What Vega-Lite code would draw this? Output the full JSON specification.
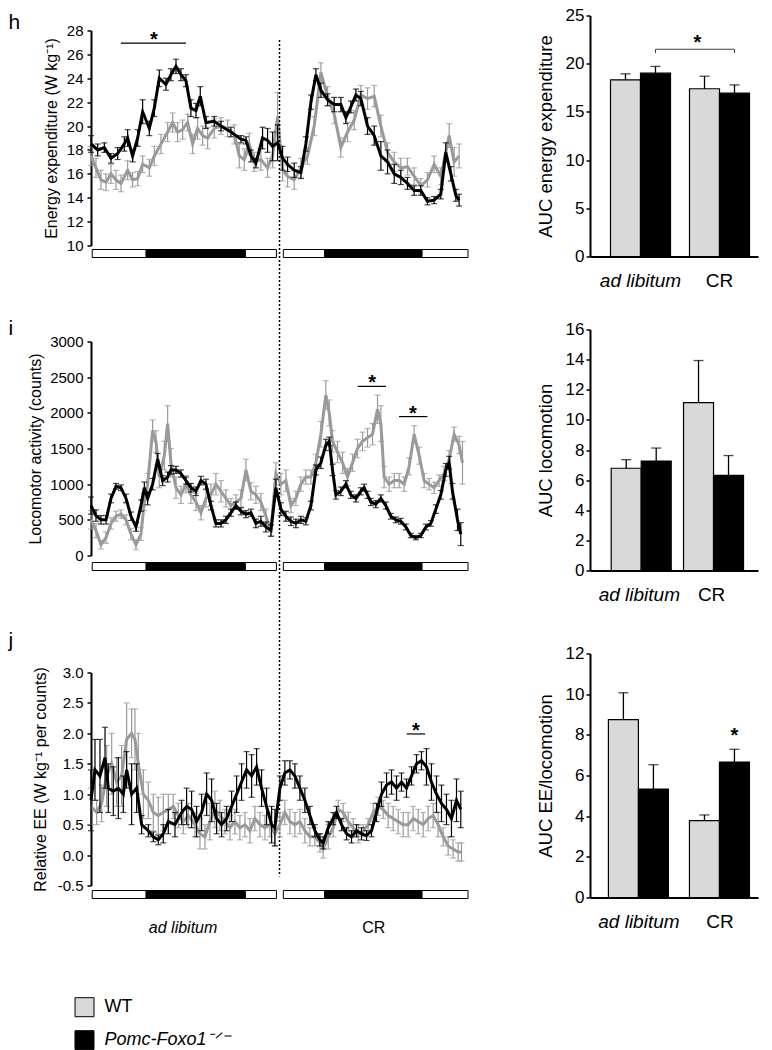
{
  "$schema": "https://vega.github.io/schema/vega-lite/v6.json",
  "background": "white",
  "padding": {"left": 8, "top": 6.5, "right": 5, "bottom": 5},
  "config": {
    "font": "Liberation Sans",
    "view": {"stroke": null},
    "axis": {"grid": false, "domainColor": "#000", "domainWidth": 2, "tickColor": "#000", "tickWidth": 1.5, "tickSize": 4, "labelColor": "#000", "titleColor": "#000", "titleFontWeight": "normal", "labelFont": "Liberation Sans", "titleFont": "Liberation Sans"},
    "title": {"font": "Liberation Sans", "fontWeight": "normal", "color": "#000"},
    "legend": {"orient": "none", "legendX": -16.5, "legendY": 981.7, "padding": 0, "symbolType": "square", "symbolSize": 361, "symbolStrokeColor": "#000", "symbolStrokeWidth": 1, "labelFontSize": 18, "labelFont": "Liberation Sans", "labelColor": "#000", "labelOffset": 10, "rowPadding": 9, "labelLimit": 300}
  },
  "datasets": {
    "h": [
      {"t":0,"g":"K","v":18.5,"e":0.7},{"t":0.87,"g":"K","v":18.0,"e":0.5},{"t":1.74,"g":"K","v":18.2,"e":0.4},{"t":2.61,"g":"K","v":17.3,"e":0.4},{"t":3.48,"g":"K","v":17.7,"e":0.5},{"t":4.35,"g":"K","v":18.5,"e":0.6},{"t":4.78,"g":"K","v":19.0,"e":0.7},{"t":5.43,"g":"K","v":17.5,"e":0.5},{"t":6.09,"g":"K","v":19.0,"e":0.7},{"t":6.74,"g":"K","v":21.2,"e":1.0},{"t":7.61,"g":"K","v":19.8,"e":0.6},{"t":8.26,"g":"K","v":21.5,"e":0.7},{"t":8.91,"g":"K","v":24.0,"e":0.7},{"t":9.78,"g":"K","v":23.5,"e":0.5},{"t":10.43,"g":"K","v":24.3,"e":0.5},{"t":11.09,"g":"K","v":25.0,"e":0.6},{"t":11.74,"g":"K","v":24.3,"e":0.5},{"t":12.39,"g":"K","v":23.8,"e":0.5},{"t":13.04,"g":"K","v":21.5,"e":0.7},{"t":13.7,"g":"K","v":21.3,"e":0.6},{"t":14.26,"g":"K","v":22.5,"e":0.8},{"t":15.0,"g":"K","v":20.3,"e":0.5},{"t":16.09,"g":"K","v":20.4,"e":0.4},{"t":16.96,"g":"K","v":20.0,"e":0.4},{"t":18.26,"g":"K","v":19.5,"e":0.4},{"t":19.57,"g":"K","v":18.9,"e":0.3},{"t":20.22,"g":"K","v":18.8,"e":0.3},{"t":20.87,"g":"K","v":17.5,"e":0.5},{"t":21.52,"g":"K","v":16.9,"e":0.4},{"t":22.39,"g":"K","v":19.0,"e":0.9},{"t":23.04,"g":"K","v":18.8,"e":1.0},{"t":23.7,"g":"K","v":18.3,"e":1.2},{"t":24.35,"g":"K","v":18.6,"e":1.5},{"t":25.0,"g":"K","v":17.3,"e":1.0},{"t":25.65,"g":"K","v":16.8,"e":0.6},{"t":26.52,"g":"K","v":16.3,"e":0.6},{"t":27.39,"g":"K","v":16.1,"e":0.5},{"t":28.04,"g":"K","v":18.5,"e":0.6},{"t":28.7,"g":"K","v":22.0,"e":0.6},{"t":29.35,"g":"K","v":24.3,"e":0.5},{"t":30.0,"g":"K","v":23.0,"e":0.6},{"t":30.87,"g":"K","v":22.2,"e":0.5},{"t":31.74,"g":"K","v":21.8,"e":0.6},{"t":32.61,"g":"K","v":21.8,"e":0.6},{"t":33.26,"g":"K","v":20.7,"e":0.5},{"t":33.91,"g":"K","v":21.6,"e":0.5},{"t":34.57,"g":"K","v":22.6,"e":0.5},{"t":35.22,"g":"K","v":22.3,"e":0.6},{"t":36.09,"g":"K","v":20.0,"e":0.7},{"t":36.96,"g":"K","v":19.2,"e":0.8},{"t":37.83,"g":"K","v":17.5,"e":1.2},{"t":38.7,"g":"K","v":17.0,"e":1.0},{"t":39.57,"g":"K","v":16.0,"e":0.8},{"t":40.43,"g":"K","v":15.7,"e":0.6},{"t":41.3,"g":"K","v":15.2,"e":0.5},{"t":42.17,"g":"K","v":14.6,"e":0.4},{"t":43.04,"g":"K","v":14.6,"e":0.4},{"t":43.91,"g":"K","v":13.7,"e":0.3},{"t":44.78,"g":"K","v":13.8,"e":0.3},{"t":45.65,"g":"K","v":14.3,"e":0.4},{"t":46.3,"g":"K","v":17.8,"e":0.8},{"t":46.96,"g":"K","v":16.0,"e":0.6},{"t":47.61,"g":"K","v":14.2,"e":0.5},{"t":48.04,"g":"K","v":13.8,"e":0.5},
      {"t":0,"g":"W","v":17.5,"e":0.8},{"t":0.65,"g":"W","v":16.5,"e":0.8},{"t":1.3,"g":"W","v":15.5,"e":0.8},{"t":1.96,"g":"W","v":15.3,"e":0.7},{"t":2.61,"g":"W","v":16.0,"e":0.8},{"t":3.26,"g":"W","v":15.5,"e":0.8},{"t":3.91,"g":"W","v":15.2,"e":0.7},{"t":4.78,"g":"W","v":16.3,"e":0.8},{"t":5.43,"g":"W","v":15.5,"e":0.6},{"t":6.09,"g":"W","v":15.6,"e":0.6},{"t":6.74,"g":"W","v":16.8,"e":0.7},{"t":7.61,"g":"W","v":16.5,"e":0.7},{"t":8.26,"g":"W","v":17.5,"e":0.8},{"t":9.13,"g":"W","v":18.5,"e":0.8},{"t":10.0,"g":"W","v":19.5,"e":0.8},{"t":10.65,"g":"W","v":20.3,"e":0.8},{"t":11.3,"g":"W","v":19.5,"e":0.8},{"t":11.96,"g":"W","v":19.7,"e":0.8},{"t":12.61,"g":"W","v":20.3,"e":0.7},{"t":13.26,"g":"W","v":18.5,"e":0.8},{"t":13.91,"g":"W","v":19.8,"e":0.9},{"t":14.57,"g":"W","v":19.2,"e":0.8},{"t":15.22,"g":"W","v":19.0,"e":0.9},{"t":16.09,"g":"W","v":19.8,"e":0.8},{"t":16.96,"g":"W","v":20.0,"e":0.7},{"t":17.83,"g":"W","v":19.8,"e":0.7},{"t":18.7,"g":"W","v":19.3,"e":0.8},{"t":19.35,"g":"W","v":17.5,"e":1.0},{"t":20.0,"g":"W","v":17.2,"e":0.9},{"t":20.65,"g":"W","v":18.5,"e":0.9},{"t":21.3,"g":"W","v":17.0,"e":0.8},{"t":22.17,"g":"W","v":17.2,"e":0.9},{"t":23.04,"g":"W","v":16.5,"e":0.8},{"t":23.7,"g":"W","v":17.5,"e":1.0},{"t":24.35,"g":"W","v":20.8,"e":2.0},{"t":25.0,"g":"W","v":16.3,"e":0.9},{"t":25.65,"g":"W","v":15.8,"e":0.9},{"t":26.52,"g":"W","v":15.5,"e":0.8},{"t":27.39,"g":"W","v":16.5,"e":0.8},{"t":28.26,"g":"W","v":17.5,"e":0.7},{"t":29.13,"g":"W","v":20.0,"e":0.8},{"t":30.0,"g":"W","v":24.5,"e":0.8},{"t":30.87,"g":"W","v":22.5,"e":0.8},{"t":31.74,"g":"W","v":21.0,"e":0.8},{"t":32.61,"g":"W","v":18.2,"e":0.8},{"t":33.48,"g":"W","v":19.5,"e":0.8},{"t":34.35,"g":"W","v":20.5,"e":0.8},{"t":35.22,"g":"W","v":22.6,"e":0.8},{"t":36.09,"g":"W","v":22.3,"e":0.9},{"t":36.96,"g":"W","v":22.5,"e":0.9},{"t":37.83,"g":"W","v":20.0,"e":0.9},{"t":38.7,"g":"W","v":17.8,"e":0.8},{"t":39.57,"g":"W","v":17.0,"e":0.8},{"t":40.43,"g":"W","v":16.5,"e":0.8},{"t":41.3,"g":"W","v":16.6,"e":0.7},{"t":42.17,"g":"W","v":15.8,"e":0.7},{"t":43.04,"g":"W","v":15.0,"e":0.6},{"t":43.91,"g":"W","v":15.5,"e":0.6},{"t":44.78,"g":"W","v":16.8,"e":0.7},{"t":45.65,"g":"W","v":15.8,"e":0.7},{"t":46.74,"g":"W","v":19.2,"e":1.0},{"t":47.39,"g":"W","v":17.0,"e":1.2},{"t":48.04,"g":"W","v":17.5,"e":1.0}
    ],
    "i": [
      {"t":0,"g":"K","v":700,"e":120},{"t":0.65,"g":"K","v":560,"e":80},{"t":1.3,"g":"K","v":500,"e":60},{"t":1.96,"g":"K","v":500,"e":60},{"t":2.61,"g":"K","v":800,"e":60},{"t":3.26,"g":"K","v":970,"e":40},{"t":3.91,"g":"K","v":950,"e":40},{"t":4.57,"g":"K","v":800,"e":60},{"t":5.22,"g":"K","v":550,"e":60},{"t":5.87,"g":"K","v":400,"e":60},{"t":6.52,"g":"K","v":700,"e":80},{"t":6.96,"g":"K","v":950,"e":80},{"t":7.39,"g":"K","v":800,"e":90},{"t":8.04,"g":"K","v":1000,"e":80},{"t":8.7,"g":"K","v":1350,"e":80},{"t":9.35,"g":"K","v":1050,"e":70},{"t":10.0,"g":"K","v":1100,"e":70},{"t":10.43,"g":"K","v":1200,"e":60},{"t":11.09,"g":"K","v":1200,"e":50},{"t":11.74,"g":"K","v":1150,"e":50},{"t":12.39,"g":"K","v":1050,"e":50},{"t":13.04,"g":"K","v":950,"e":60},{"t":13.7,"g":"K","v":900,"e":60},{"t":14.35,"g":"K","v":1050,"e":60},{"t":15.0,"g":"K","v":1000,"e":70},{"t":15.65,"g":"K","v":700,"e":60},{"t":16.3,"g":"K","v":450,"e":50},{"t":16.96,"g":"K","v":450,"e":50},{"t":17.61,"g":"K","v":500,"e":50},{"t":18.26,"g":"K","v":600,"e":50},{"t":18.91,"g":"K","v":700,"e":50},{"t":19.57,"g":"K","v":620,"e":50},{"t":20.22,"g":"K","v":580,"e":50},{"t":20.87,"g":"K","v":600,"e":50},{"t":21.52,"g":"K","v":450,"e":60},{"t":22.17,"g":"K","v":480,"e":70},{"t":22.83,"g":"K","v":400,"e":70},{"t":23.48,"g":"K","v":350,"e":80},{"t":24.13,"g":"K","v":950,"e":120},{"t":24.78,"g":"K","v":650,"e":90},{"t":25.43,"g":"K","v":550,"e":70},{"t":26.09,"g":"K","v":480,"e":60},{"t":26.74,"g":"K","v":450,"e":60},{"t":27.39,"g":"K","v":500,"e":50},{"t":28.04,"g":"K","v":480,"e":50},{"t":28.7,"g":"K","v":700,"e":60},{"t":29.35,"g":"K","v":1200,"e":70},{"t":30.0,"g":"K","v":1300,"e":80},{"t":30.65,"g":"K","v":1550,"e":80},{"t":31.09,"g":"K","v":1600,"e":60},{"t":31.52,"g":"K","v":1200,"e":80},{"t":31.96,"g":"K","v":850,"e":60},{"t":32.61,"g":"K","v":900,"e":60},{"t":33.26,"g":"K","v":1000,"e":50},{"t":33.91,"g":"K","v":850,"e":50},{"t":34.57,"g":"K","v":800,"e":50},{"t":35.22,"g":"K","v":900,"e":50},{"t":35.65,"g":"K","v":950,"e":50},{"t":36.09,"g":"K","v":850,"e":50},{"t":36.52,"g":"K","v":750,"e":50},{"t":37.17,"g":"K","v":720,"e":50},{"t":37.83,"g":"K","v":800,"e":50},{"t":38.48,"g":"K","v":700,"e":50},{"t":39.13,"g":"K","v":550,"e":40},{"t":39.78,"g":"K","v":500,"e":40},{"t":40.43,"g":"K","v":480,"e":40},{"t":41.09,"g":"K","v":400,"e":40},{"t":41.74,"g":"K","v":280,"e":30},{"t":42.39,"g":"K","v":250,"e":30},{"t":43.04,"g":"K","v":280,"e":30},{"t":43.7,"g":"K","v":400,"e":40},{"t":44.35,"g":"K","v":450,"e":40},{"t":45.0,"g":"K","v":650,"e":60},{"t":45.65,"g":"K","v":850,"e":60},{"t":46.3,"g":"K","v":1200,"e":90},{"t":46.74,"g":"K","v":1300,"e":90},{"t":47.17,"g":"K","v":900,"e":110},{"t":47.83,"g":"K","v":500,"e":150},{"t":48.26,"g":"K","v":300,"e":160},
      {"t":0,"g":"W","v":500,"e":130},{"t":0.65,"g":"W","v":350,"e":100},{"t":1.3,"g":"W","v":150,"e":60},{"t":1.96,"g":"W","v":250,"e":80},{"t":2.61,"g":"W","v":450,"e":80},{"t":3.26,"g":"W","v":550,"e":70},{"t":3.91,"g":"W","v":580,"e":60},{"t":4.57,"g":"W","v":500,"e":70},{"t":5.22,"g":"W","v":300,"e":80},{"t":5.87,"g":"W","v":150,"e":70},{"t":6.52,"g":"W","v":300,"e":90},{"t":6.96,"g":"W","v":750,"e":120},{"t":7.39,"g":"W","v":1000,"e":150},{"t":8.04,"g":"W","v":1750,"e":150},{"t":8.48,"g":"W","v":1600,"e":150},{"t":8.91,"g":"W","v":1100,"e":150},{"t":9.57,"g":"W","v":1400,"e":200},{"t":10.0,"g":"W","v":1850,"e":250},{"t":10.43,"g":"W","v":1300,"e":200},{"t":11.09,"g":"W","v":950,"e":150},{"t":11.74,"g":"W","v":850,"e":120},{"t":12.39,"g":"W","v":1000,"e":120},{"t":13.04,"g":"W","v":850,"e":120},{"t":13.7,"g":"W","v":750,"e":120},{"t":14.35,"g":"W","v":600,"e":100},{"t":15.0,"g":"W","v":800,"e":120},{"t":15.65,"g":"W","v":850,"e":150},{"t":16.3,"g":"W","v":1000,"e":150},{"t":16.96,"g":"W","v":900,"e":150},{"t":17.61,"g":"W","v":800,"e":120},{"t":18.26,"g":"W","v":700,"e":100},{"t":18.91,"g":"W","v":750,"e":100},{"t":19.57,"g":"W","v":800,"e":120},{"t":20.22,"g":"W","v":1200,"e":150},{"t":20.87,"g":"W","v":900,"e":120},{"t":21.52,"g":"W","v":850,"e":120},{"t":22.17,"g":"W","v":750,"e":120},{"t":22.83,"g":"W","v":550,"e":100},{"t":23.48,"g":"W","v":350,"e":80},{"t":24.13,"g":"W","v":1150,"e":150},{"t":24.78,"g":"W","v":1000,"e":150},{"t":25.43,"g":"W","v":1050,"e":150},{"t":26.09,"g":"W","v":700,"e":100},{"t":26.74,"g":"W","v":800,"e":100},{"t":27.39,"g":"W","v":1000,"e":100},{"t":28.04,"g":"W","v":1100,"e":100},{"t":28.7,"g":"W","v":1100,"e":100},{"t":29.35,"g":"W","v":1300,"e":120},{"t":30.0,"g":"W","v":1700,"e":180},{"t":30.65,"g":"W","v":2250,"e":200},{"t":31.09,"g":"W","v":2000,"e":180},{"t":31.52,"g":"W","v":1600,"e":150},{"t":32.17,"g":"W","v":1450,"e":150},{"t":32.83,"g":"W","v":1300,"e":150},{"t":33.48,"g":"W","v":1100,"e":120},{"t":34.13,"g":"W","v":1300,"e":120},{"t":34.78,"g":"W","v":1500,"e":130},{"t":35.43,"g":"W","v":1600,"e":130},{"t":36.09,"g":"W","v":1650,"e":130},{"t":36.74,"g":"W","v":1700,"e":150},{"t":37.39,"g":"W","v":2050,"e":200},{"t":37.83,"g":"W","v":1850,"e":250},{"t":38.26,"g":"W","v":1100,"e":150},{"t":38.91,"g":"W","v":1000,"e":100},{"t":39.57,"g":"W","v":1050,"e":100},{"t":40.22,"g":"W","v":1050,"e":100},{"t":40.87,"g":"W","v":1000,"e":100},{"t":41.52,"g":"W","v":1250,"e":120},{"t":42.17,"g":"W","v":1700,"e":120},{"t":42.83,"g":"W","v":1400,"e":120},{"t":43.48,"g":"W","v":1050,"e":100},{"t":44.13,"g":"W","v":1000,"e":80},{"t":44.78,"g":"W","v":950,"e":80},{"t":45.43,"g":"W","v":1050,"e":80},{"t":46.09,"g":"W","v":1150,"e":100},{"t":46.74,"g":"W","v":1350,"e":120},{"t":47.39,"g":"W","v":1700,"e":100},{"t":48.04,"g":"W","v":1550,"e":120},{"t":48.48,"g":"W","v":1300,"e":300}
    ],
    "j": [
      {"t":0,"g":"K","v":0.9,"e":0.5},{"t":0.52,"g":"K","v":1.4,"e":0.5},{"t":1.17,"g":"K","v":1.3,"e":0.6},{"t":1.83,"g":"K","v":1.6,"e":0.5},{"t":2.26,"g":"K","v":1.1,"e":0.4},{"t":2.91,"g":"K","v":1.05,"e":0.4},{"t":3.57,"g":"K","v":1.1,"e":0.5},{"t":4.22,"g":"K","v":1.0,"e":0.3},{"t":4.65,"g":"K","v":1.4,"e":0.3},{"t":5.3,"g":"K","v":1.0,"e":0.5},{"t":5.96,"g":"K","v":1.1,"e":0.4},{"t":6.61,"g":"K","v":0.5,"e":0.15},{"t":7.48,"g":"K","v":0.4,"e":0.1},{"t":8.13,"g":"K","v":0.3,"e":0.08},{"t":8.78,"g":"K","v":0.25,"e":0.08},{"t":9.43,"g":"K","v":0.35,"e":0.15},{"t":10.09,"g":"K","v":0.55,"e":0.2},{"t":10.96,"g":"K","v":0.5,"e":0.2},{"t":11.83,"g":"K","v":0.7,"e":0.2},{"t":12.48,"g":"K","v":0.8,"e":0.3},{"t":13.13,"g":"K","v":0.75,"e":0.3},{"t":13.78,"g":"K","v":0.55,"e":0.25},{"t":14.43,"g":"K","v":0.7,"e":0.3},{"t":15.09,"g":"K","v":1.0,"e":0.35},{"t":15.74,"g":"K","v":0.9,"e":0.35},{"t":16.39,"g":"K","v":0.6,"e":0.25},{"t":17.04,"g":"K","v":0.5,"e":0.2},{"t":17.7,"g":"K","v":0.6,"e":0.2},{"t":18.35,"g":"K","v":0.8,"e":0.25},{"t":19.0,"g":"K","v":1.0,"e":0.3},{"t":19.65,"g":"K","v":1.2,"e":0.3},{"t":20.3,"g":"K","v":1.4,"e":0.3},{"t":20.96,"g":"K","v":1.3,"e":0.35},{"t":21.61,"g":"K","v":1.45,"e":0.3},{"t":22.26,"g":"K","v":1.1,"e":0.3},{"t":22.91,"g":"K","v":0.8,"e":0.3},{"t":23.57,"g":"K","v":0.5,"e":0.3},{"t":24.0,"g":"K","v":0.45,"e":0.3},{"t":24.65,"g":"K","v":1.1,"e":0.2},{"t":25.3,"g":"K","v":1.35,"e":0.2},{"t":25.96,"g":"K","v":1.4,"e":0.15},{"t":26.61,"g":"K","v":1.3,"e":0.2},{"t":27.26,"g":"K","v":1.1,"e":0.2},{"t":27.91,"g":"K","v":0.9,"e":0.2},{"t":28.57,"g":"K","v":0.65,"e":0.15},{"t":29.22,"g":"K","v":0.4,"e":0.1},{"t":29.87,"g":"K","v":0.25,"e":0.1},{"t":30.3,"g":"K","v":0.2,"e":0.1},{"t":30.96,"g":"K","v":0.45,"e":0.1},{"t":31.61,"g":"K","v":0.6,"e":0.1},{"t":32.04,"g":"K","v":0.7,"e":0.1},{"t":32.7,"g":"K","v":0.5,"e":0.1},{"t":33.35,"g":"K","v":0.35,"e":0.1},{"t":34.0,"g":"K","v":0.3,"e":0.1},{"t":34.65,"g":"K","v":0.4,"e":0.1},{"t":35.3,"g":"K","v":0.35,"e":0.1},{"t":35.96,"g":"K","v":0.32,"e":0.08},{"t":36.61,"g":"K","v":0.4,"e":0.1},{"t":37.26,"g":"K","v":0.7,"e":0.15},{"t":37.91,"g":"K","v":1.0,"e":0.2},{"t":38.57,"g":"K","v":1.15,"e":0.2},{"t":39.22,"g":"K","v":1.2,"e":0.2},{"t":39.87,"g":"K","v":1.1,"e":0.2},{"t":40.52,"g":"K","v":1.2,"e":0.15},{"t":41.17,"g":"K","v":1.1,"e":0.15},{"t":41.83,"g":"K","v":1.3,"e":0.15},{"t":42.48,"g":"K","v":1.5,"e":0.15},{"t":43.13,"g":"K","v":1.55,"e":0.15},{"t":43.78,"g":"K","v":1.45,"e":0.3},{"t":44.43,"g":"K","v":1.2,"e":0.3},{"t":45.09,"g":"K","v":1.0,"e":0.3},{"t":45.74,"g":"K","v":0.85,"e":0.3},{"t":46.39,"g":"K","v":0.75,"e":0.25},{"t":47.04,"g":"K","v":0.6,"e":0.3},{"t":47.7,"g":"K","v":0.9,"e":0.35},{"t":48.26,"g":"K","v":0.75,"e":0.3},
      {"t":0,"g":"W","v":0.8,"e":0.3},{"t":0.74,"g":"W","v":0.7,"e":0.2},{"t":1.39,"g":"W","v":0.85,"e":0.3},{"t":2.04,"g":"W","v":1.3,"e":0.5},{"t":2.7,"g":"W","v":1.5,"e":0.5},{"t":3.35,"g":"W","v":1.2,"e":0.4},{"t":4.0,"g":"W","v":1.3,"e":0.5},{"t":4.65,"g":"W","v":1.9,"e":0.6},{"t":5.3,"g":"W","v":2.0,"e":0.4},{"t":5.74,"g":"W","v":1.9,"e":0.5},{"t":6.17,"g":"W","v":1.5,"e":0.5},{"t":6.83,"g":"W","v":1.0,"e":0.4},{"t":7.48,"g":"W","v":0.9,"e":0.3},{"t":8.13,"g":"W","v":0.7,"e":0.3},{"t":8.78,"g":"W","v":0.65,"e":0.3},{"t":9.43,"g":"W","v":0.7,"e":0.3},{"t":10.09,"g":"W","v":0.75,"e":0.25},{"t":10.74,"g":"W","v":0.8,"e":0.2},{"t":11.39,"g":"W","v":0.65,"e":0.2},{"t":12.04,"g":"W","v":0.55,"e":0.2},{"t":12.7,"g":"W","v":0.65,"e":0.2},{"t":13.57,"g":"W","v":0.5,"e":0.2},{"t":14.22,"g":"W","v":0.35,"e":0.25},{"t":14.87,"g":"W","v":0.3,"e":0.2},{"t":15.52,"g":"W","v":0.55,"e":0.3},{"t":16.17,"g":"W","v":0.75,"e":0.3},{"t":16.83,"g":"W","v":0.65,"e":0.25},{"t":17.48,"g":"W","v":0.55,"e":0.2},{"t":18.13,"g":"W","v":0.45,"e":0.2},{"t":18.78,"g":"W","v":0.55,"e":0.2},{"t":19.43,"g":"W","v":0.45,"e":0.2},{"t":20.09,"g":"W","v":0.5,"e":0.2},{"t":20.74,"g":"W","v":0.4,"e":0.2},{"t":21.39,"g":"W","v":0.6,"e":0.2},{"t":22.04,"g":"W","v":0.5,"e":0.2},{"t":22.7,"g":"W","v":0.45,"e":0.2},{"t":23.35,"g":"W","v":0.5,"e":0.2},{"t":24.0,"g":"W","v":0.35,"e":0.2},{"t":24.65,"g":"W","v":0.5,"e":0.2},{"t":25.3,"g":"W","v":0.7,"e":0.2},{"t":25.96,"g":"W","v":0.55,"e":0.2},{"t":26.61,"g":"W","v":0.5,"e":0.2},{"t":27.26,"g":"W","v":0.55,"e":0.2},{"t":27.91,"g":"W","v":0.4,"e":0.2},{"t":28.57,"g":"W","v":0.3,"e":0.15},{"t":29.22,"g":"W","v":0.3,"e":0.15},{"t":29.87,"g":"W","v":0.2,"e":0.15},{"t":30.3,"g":"W","v":0.1,"e":0.15},{"t":30.96,"g":"W","v":0.3,"e":0.2},{"t":31.61,"g":"W","v":0.45,"e":0.15},{"t":32.26,"g":"W","v":0.75,"e":0.15},{"t":32.91,"g":"W","v":0.7,"e":0.15},{"t":33.57,"g":"W","v":0.55,"e":0.15},{"t":34.22,"g":"W","v":0.45,"e":0.15},{"t":34.87,"g":"W","v":0.35,"e":0.15},{"t":35.52,"g":"W","v":0.4,"e":0.1},{"t":36.17,"g":"W","v":0.5,"e":0.1},{"t":36.83,"g":"W","v":0.7,"e":0.15},{"t":37.48,"g":"W","v":0.8,"e":0.15},{"t":38.13,"g":"W","v":0.75,"e":0.15},{"t":38.78,"g":"W","v":0.65,"e":0.2},{"t":39.43,"g":"W","v":0.6,"e":0.2},{"t":40.09,"g":"W","v":0.55,"e":0.2},{"t":40.74,"g":"W","v":0.5,"e":0.2},{"t":41.39,"g":"W","v":0.5,"e":0.2},{"t":42.04,"g":"W","v":0.6,"e":0.2},{"t":42.7,"g":"W","v":0.55,"e":0.2},{"t":43.35,"g":"W","v":0.5,"e":0.2},{"t":44.0,"g":"W","v":0.6,"e":0.2},{"t":44.65,"g":"W","v":0.65,"e":0.2},{"t":45.3,"g":"W","v":0.5,"e":0.2},{"t":45.96,"g":"W","v":0.3,"e":0.15},{"t":46.61,"g":"W","v":0.15,"e":0.15},{"t":47.26,"g":"W","v":0.1,"e":0.15},{"t":47.91,"g":"W","v":0.05,"e":0.15},{"t":48.35,"g":"W","v":0.05,"e":0.15}
    ],
    "strip": [
      {"s":0.16,"e":7.2,"p":"light"},{"s":7.2,"e":20.15,"p":"dark"},{"s":20.15,"e":24.2,"p":"light"},
      {"s":25.1,"e":30.5,"p":"light"},{"s":30.5,"e":43.2,"p":"dark"},{"s":43.2,"e":49.2,"p":"light"}
    ],
    "divider": [{"t": 24.6, "top": 27.2, "bottom": -42.83}],
    "sig_h": [{"t1":3.9,"t2":12.4,"tm":8.2,"v":26.94}],
    "sig_i": [{"t1":34.8,"t2":38.5,"tm":36.7,"v":2371},{"t1":40.2,"t2":43.9,"tm":42.0,"v":1947}],
    "sig_j": [{"t1":41.2,"t2":43.6,"tm":42.4,"v":1.99}],
    "bars_h": [
      {"diet":"ad libitum","g":"WT","v":18.33,"e":0.62},{"diet":"ad libitum","g":"KO","v":19.02,"e":0.7},
      {"diet":"CR","g":"WT","v":17.4,"e":1.3},{"diet":"CR","g":"KO","v":16.94,"e":0.86}
    ],
    "bars_i": [
      {"diet":"ad libitum","g":"WT","v":6.79,"e":0.57},{"diet":"ad libitum","g":"KO","v":7.27,"e":0.86},
      {"diet":"CR","g":"WT","v":11.14,"e":2.8},{"diet":"CR","g":"KO","v":6.31,"e":1.32}
    ],
    "bars_j": [
      {"diet":"ad libitum","g":"WT","v":8.75,"e":1.32},{"diet":"ad libitum","g":"KO","v":5.33,"e":1.2},
      {"diet":"CR","g":"WT","v":3.78,"e":0.28},{"diet":"CR","g":"KO","v":6.66,"e":0.63}
    ],
    "bracket_h": [
      {"diet":"ad libitum","g":"KO","v":21.1,"o":1},{"diet":"ad libitum","g":"KO","v":21.5,"o":2},
      {"diet":"CR","g":"KO","v":21.5,"o":3},{"diet":"CR","g":"KO","v":21.1,"o":4}
    ],
    "star_h": [{"diet":"CR","g":"WT","v":21.6}],
    "star_j": [{"diet":"CR","g":"KO","v":7.7}]
  },
  "hconcat": [
    {
      "vconcat": [
        {"width": 377, "height": 15, "data": {"values": []}, "mark": "point"},
        {
          "width": 377, "height": 215,
          "title": {"text": "h", "anchor": "start", "frame": "group", "dx": -82.5, "offset": -26.2, "fontSize": 21, "baseline": "alphabetic"},
          "data": {"name": "h"},
          "encoding": {
            "x": {"field": "t", "type": "quantitative", "scale": {"domain": [0, 49.2], "nice": false, "zero": false}, "axis": null},
            "y": {"field": "v", "type": "quantitative", "scale": {"domain": [10, 28], "nice": false, "zero": false}, "axis": {"title": "Energy expenditure (W kg⁻¹)", "values": [10,12,14,16,18,20,22,24,26,28], "labelFontSize": 15, "titleFontSize": 16, "labelPadding": 4, "titlePadding": 7}}
          },
          "layer": [
            {"transform": [{"filter": "datum.g == 'W'"}], "mark": {"type": "errorbar", "ticks": true, "size": 6, "thickness": 1.2, "color": "#9a9a9a"}, "encoding": {"yError": {"field": "e"}}},
            {"transform": [{"filter": "datum.g == 'W'"}], "mark": {"type": "line", "color": "#9a9a9a", "strokeWidth": 3}},
            {"transform": [{"filter": "datum.g == 'K'"}], "mark": {"type": "errorbar", "ticks": true, "size": 6, "thickness": 1.2, "color": "#000"}, "encoding": {"yError": {"field": "e"}}},
            {"transform": [{"filter": "datum.g == 'K'"}], "mark": {"type": "line", "color": "#000", "strokeWidth": 3}},
            {"data": {"name": "sig_h"}, "mark": {"type": "rule", "color": "#000", "strokeWidth": 1.2}, "encoding": {"x": {"field": "t1", "type": "quantitative"}, "x2": {"field": "t2"}}},
            {"data": {"name": "sig_h"}, "mark": {"type": "text", "text": "*", "fontSize": 20, "fontWeight": "bold", "baseline": "alphabetic", "dy": 3, "color": "#000"}, "encoding": {"x": {"field": "tm", "type": "quantitative"}}},
            {"data": {"name": "divider"}, "mark": {"type": "rule", "color": "#000", "strokeWidth": 1.5, "strokeDash": [2, 2], "clip": false}, "encoding": {"x": {"field": "t", "type": "quantitative"}, "y": {"field": "top", "type": "quantitative"}, "y2": {"field": "bottom"}}}
          ]
        },
        {"width": 377, "height": 4, "data": {"values": []}, "mark": "point"},
        {
          "width": 377, "height": 8, "data": {"name": "strip"},
          "mark": {"type": "rect", "stroke": "#000", "strokeWidth": 1},
          "encoding": {
            "x": {"field": "s", "type": "quantitative", "scale": {"domain": [0, 49.2], "nice": false, "zero": false}, "axis": null},
            "x2": {"field": "e"},
            "fill": {"condition": {"test": "datum.p == 'dark'", "value": "#000"}, "value": "#fff"}
          }
        },
        {"width": 377, "height": 84, "data": {"values": []}, "mark": "point"},
        {
          "width": 377, "height": 214,
          "title": {"text": "i", "anchor": "start", "frame": "group", "dx": -82.5, "offset": -21.8, "fontSize": 21, "baseline": "alphabetic"},
          "data": {"name": "i"},
          "encoding": {
            "x": {"field": "t", "type": "quantitative", "scale": {"domain": [0, 49.2], "nice": false, "zero": false}, "axis": null},
            "y": {"field": "v", "type": "quantitative", "scale": {"domain": [0, 3000], "nice": false}, "axis": {"title": "Locomotor activity (counts)", "values": [0,500,1000,1500,2000,2500,3000], "format": "d", "labelFontSize": 15, "titleFontSize": 16, "labelPadding": 4, "titlePadding": 6}}
          },
          "layer": [
            {"transform": [{"filter": "datum.g == 'W'"}], "mark": {"type": "errorbar", "ticks": true, "size": 6, "thickness": 1.2, "color": "#9a9a9a"}, "encoding": {"yError": {"field": "e"}}},
            {"transform": [{"filter": "datum.g == 'W'"}], "mark": {"type": "line", "color": "#9a9a9a", "strokeWidth": 3}},
            {"transform": [{"filter": "datum.g == 'K'"}], "mark": {"type": "errorbar", "ticks": true, "size": 6, "thickness": 1.2, "color": "#000"}, "encoding": {"yError": {"field": "e"}}},
            {"transform": [{"filter": "datum.g == 'K'"}], "mark": {"type": "line", "color": "#000", "strokeWidth": 3}},
            {"data": {"name": "sig_i"}, "mark": {"type": "rule", "color": "#000", "strokeWidth": 1.2}, "encoding": {"x": {"field": "t1", "type": "quantitative"}, "x2": {"field": "t2"}}},
            {"data": {"name": "sig_i"}, "mark": {"type": "text", "text": "*", "fontSize": 20, "fontWeight": "bold", "baseline": "alphabetic", "dy": 3, "color": "#000"}, "encoding": {"x": {"field": "tm", "type": "quantitative"}}}
          ]
        },
        {"width": 377, "height": 7, "data": {"values": []}, "mark": "point"},
        {
          "width": 377, "height": 8, "data": {"name": "strip"},
          "mark": {"type": "rect", "stroke": "#000", "strokeWidth": 1},
          "encoding": {
            "x": {"field": "s", "type": "quantitative", "scale": {"domain": [0, 49.2], "nice": false, "zero": false}, "axis": null},
            "x2": {"field": "e"},
            "fill": {"condition": {"test": "datum.p == 'dark'", "value": "#000"}, "value": "#fff"}
          }
        },
        {"width": 377, "height": 102, "data": {"values": []}, "mark": "point"},
        {
          "width": 377, "height": 213,
          "title": {"text": "j", "anchor": "start", "frame": "group", "dx": -82.5, "offset": -2.8, "fontSize": 21, "baseline": "alphabetic"},
          "data": {"name": "j"},
          "encoding": {
            "x": {"field": "t", "type": "quantitative", "scale": {"domain": [0, 49.2], "nice": false, "zero": false}, "axis": null},
            "y": {"field": "v", "type": "quantitative", "scale": {"domain": [-0.5, 3.0], "nice": false, "zero": false}, "axis": {"title": "Relative EE (W kg⁻¹ per counts)", "values": [-0.5,0,0.5,1,1.5,2,2.5,3], "labelExpr": "datum.value < 0 ? '-' + format(-datum.value, '.1f') : format(datum.value, '.1f')", "labelFontSize": 15, "titleFontSize": 16, "labelPadding": 4, "titlePadding": 9}}
          },
          "layer": [
            {"transform": [{"filter": "datum.g == 'W'"}], "mark": {"type": "errorbar", "ticks": true, "size": 6, "thickness": 1.2, "color": "#9a9a9a"}, "encoding": {"yError": {"field": "e"}}},
            {"transform": [{"filter": "datum.g == 'W'"}], "mark": {"type": "line", "color": "#9a9a9a", "strokeWidth": 3}},
            {"transform": [{"filter": "datum.g == 'K'"}], "mark": {"type": "errorbar", "ticks": true, "size": 6, "thickness": 1.2, "color": "#000"}, "encoding": {"yError": {"field": "e"}}},
            {"transform": [{"filter": "datum.g == 'K'"}], "mark": {"type": "line", "color": "#000", "strokeWidth": 3}},
            {"data": {"name": "sig_j"}, "mark": {"type": "rule", "color": "#000", "strokeWidth": 1.2}, "encoding": {"x": {"field": "t1", "type": "quantitative"}, "x2": {"field": "t2"}}},
            {"data": {"name": "sig_j"}, "mark": {"type": "text", "text": "*", "fontSize": 20, "fontWeight": "bold", "baseline": "alphabetic", "dy": 3, "color": "#000"}, "encoding": {"x": {"field": "tm", "type": "quantitative"}}}
          ]
        },
        {"width": 377, "height": 5, "data": {"values": []}, "mark": "point"},
        {
          "width": 377, "height": 8, "data": {"name": "strip"},
          "mark": {"type": "rect", "stroke": "#000", "strokeWidth": 1},
          "encoding": {
            "x": {"field": "s", "type": "quantitative", "scale": {"domain": [0, 49.2], "nice": false, "zero": false}, "axis": {"title": null, "domain": false, "ticks": false, "values": [11.95, 36.85], "labelExpr": "datum.value < 24 ? 'ad libitum' : 'CR'", "labelFontSize": 16, "labelPadding": 21, "labelFlush": false, "labelOverlap": false, "labelFontStyle": {"condition": {"test": "datum.value < 24", "value": "italic"}, "value": "normal"}}},
            "x2": {"field": "e"},
            "fill": {"condition": {"test": "datum.p == 'dark'", "value": "#000"}, "value": "#fff"}
          }
        }
      ],
      "spacing": 0,
      "bounds": "flush"
    },
    {
      "vconcat": [
        {
          "width": 168, "height": 241,
          "data": {"name": "bars_h"},
          "encoding": {
            "x": {"field": "diet", "type": "nominal", "sort": ["ad libitum", "CR"], "scale": {"paddingInner": 0.2405, "paddingOuter": 0.1835, "align": 0.707}, "axis": {"title": null, "ticks": false, "labelAngle": 0, "labelFontSize": 19, "labelPadding": 15, "labelFontStyle": {"condition": {"test": "datum.value == 'ad libitum'", "value": "italic"}, "value": "normal"}}},
            "xOffset": {"field": "g", "type": "nominal", "sort": ["WT", "KO"], "scale": {"paddingInner": 0, "paddingOuter": 0}},
            "y": {"field": "v", "type": "quantitative", "scale": {"domain": [0, 25], "nice": false}, "axis": {"title": "AUC energy expenditure", "values": [0,5,10,15,20,25], "labelFontSize": 17, "titleFontSize": 18.5, "labelPadding": 2, "titlePadding": 10}}
          },
          "layer": [
            {"mark": {"type": "errorbar", "ticks": true, "size": 10, "thickness": 1.3, "color": "#000"}, "encoding": {"yError": {"field": "e"}}},
            {"mark": {"type": "bar", "stroke": "#000", "strokeWidth": 1.2}, "encoding": {"fill": {"field": "g", "type": "nominal", "scale": {"domain": ["WT", "KO"], "range": ["#d9d9d9", "#000000"]}, "legend": {"title": null, "labelExpr": "datum.value == 'KO' ? 'Pomc-Foxo1⁻ᐟ⁻' : 'WT'", "encode": {"labels": {"update": {"fontStyle": {"signal": "datum.value == 'KO' ? 'italic' : 'normal'"}}}}}}}},
            {"data": {"name": "bracket_h"}, "mark": {"type": "line", "color": "#444", "strokeWidth": 1}, "encoding": {"order": {"field": "o", "type": "quantitative"}}},
            {"data": {"name": "star_h"}, "mark": {"type": "text", "text": "*", "fontSize": 20, "fontWeight": "bold", "baseline": "alphabetic", "dx": -7, "dy": 1, "color": "#000"}}
          ]
        },
        {"width": 168, "height": 73, "data": {"values": []}, "mark": "point"},
        {
          "width": 168, "height": 241,
          "data": {"name": "bars_i"},
          "encoding": {
            "x": {"field": "diet", "type": "nominal", "sort": ["ad libitum", "CR"], "scale": {"paddingInner": 0.223, "paddingOuter": 0.273, "align": 0.537}, "axis": {"title": null, "ticks": false, "labelAngle": 0, "labelFontSize": 19, "labelPadding": 15, "labelFontStyle": {"condition": {"test": "datum.value == 'ad libitum'", "value": "italic"}, "value": "normal"}}},
            "xOffset": {"field": "g", "type": "nominal", "sort": ["WT", "KO"], "scale": {"paddingInner": 0, "paddingOuter": 0}},
            "y": {"field": "v", "type": "quantitative", "scale": {"domain": [0, 16], "nice": false}, "axis": {"title": "AUC locomotion", "values": [0,2,4,6,8,10,12,14,16], "labelFontSize": 17, "titleFontSize": 18.5, "labelPadding": 2, "titlePadding": 10}}
          },
          "layer": [
            {"mark": {"type": "errorbar", "ticks": true, "size": 10, "thickness": 1.3, "color": "#000"}, "encoding": {"yError": {"field": "e"}}},
            {"mark": {"type": "bar", "stroke": "#000", "strokeWidth": 1.2}, "encoding": {"fill": {"field": "g", "type": "nominal", "scale": {"domain": ["WT", "KO"], "range": ["#d9d9d9", "#000000"]}, "legend": {"title": null, "labelExpr": "datum.value == 'KO' ? 'Pomc-Foxo1⁻ᐟ⁻' : 'WT'", "encode": {"labels": {"update": {"fontStyle": {"signal": "datum.value == 'KO' ? 'italic' : 'normal'"}}}}}}}}
          ]
        },
        {"width": 168, "height": 83, "data": {"values": []}, "mark": "point"},
        {
          "width": 168, "height": 244,
          "data": {"name": "bars_j"},
          "encoding": {
            "x": {"field": "diet", "type": "nominal", "sort": ["ad libitum", "CR"], "scale": {"paddingInner": 0.247, "paddingOuter": 0.16, "align": 0.71}, "axis": {"title": null, "ticks": false, "labelAngle": 0, "labelFontSize": 19, "labelPadding": 15, "labelFontStyle": {"condition": {"test": "datum.value == 'ad libitum'", "value": "italic"}, "value": "normal"}}},
            "xOffset": {"field": "g", "type": "nominal", "sort": ["WT", "KO"], "scale": {"paddingInner": 0, "paddingOuter": 0}},
            "y": {"field": "v", "type": "quantitative", "scale": {"domain": [0, 12], "nice": false}, "axis": {"title": "AUC EE/locomotion", "values": [0,2,4,6,8,10,12], "labelFontSize": 17, "titleFontSize": 18.5, "labelPadding": 2, "titlePadding": 10}}
          },
          "layer": [
            {"mark": {"type": "errorbar", "ticks": true, "size": 10, "thickness": 1.3, "color": "#000"}, "encoding": {"yError": {"field": "e"}}},
            {"mark": {"type": "bar", "stroke": "#000", "strokeWidth": 1.2}, "encoding": {"fill": {"field": "g", "type": "nominal", "scale": {"domain": ["WT", "KO"], "range": ["#d9d9d9", "#000000"]}, "legend": {"title": null, "labelExpr": "datum.value == 'KO' ? 'Pomc-Foxo1⁻ᐟ⁻' : 'WT'", "encode": {"labels": {"update": {"fontStyle": {"signal": "datum.value == 'KO' ? 'italic' : 'normal'"}}}}}}}},
            {"data": {"name": "star_j"}, "mark": {"type": "text", "text": "*", "fontSize": 20, "fontWeight": "bold", "baseline": "alphabetic", "dy": 1, "color": "#000"}}
          ]
        }
      ],
      "spacing": 0,
      "bounds": "flush"
    }
  ],
  "spacing": 67
}
